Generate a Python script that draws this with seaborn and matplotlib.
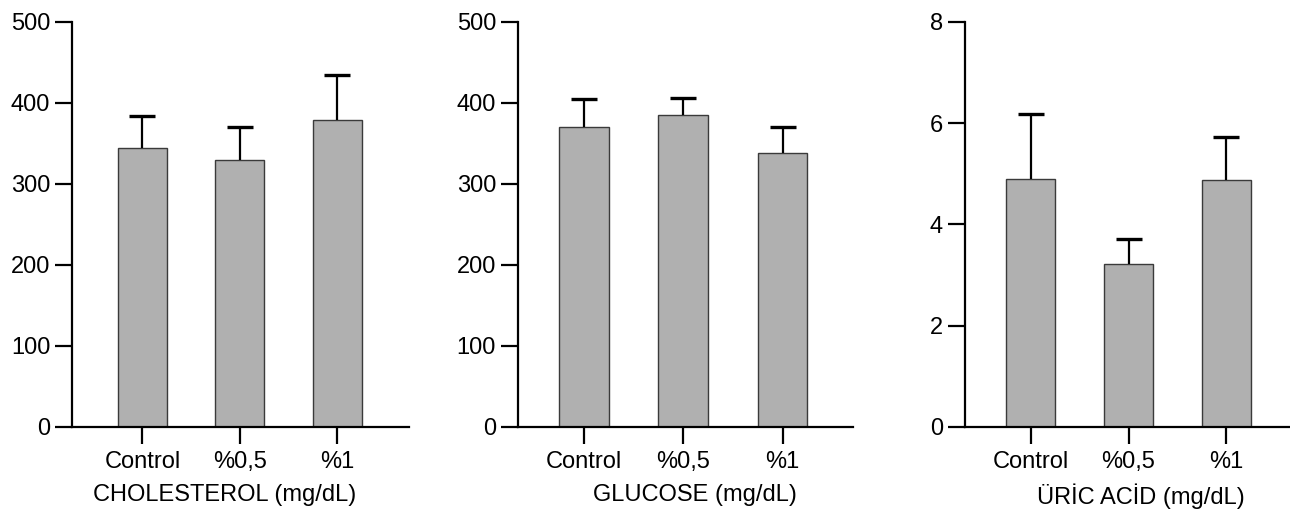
import numpy as np
import pandas as pd
import matplotlib
matplotlib.use("Agg")
import matplotlib.pyplot as plt
import seaborn as sns

# groups shown on every panel
groups = ["Control", "%0,5", "%1"]

# means and SD (upper whisker only)
chol_mean = [344, 329, 379]
chol_sd = [39.5, 41, 55]
gluc_mean = [370, 385, 338.5]
gluc_sd = [35, 21.5, 31.5]
uric_mean = [4.90, 3.22, 4.88]
uric_sd = [1.28, 0.50, 0.84]

labels = ["CHOLESTEROL (mg/dL)", "GLUCOSE (mg/dL)", "ÜRİC ACİD (mg/dL)"]
yticks = [[0, 100, 200, 300, 400, 500], [0, 100, 200, 300, 400, 500], [0, 2, 4, 6, 8]]

sns.set_style("ticks")
plt.rcParams['font.family'] = ['Liberation Sans', 'DejaVu Sans']
plt.rcParams['font.size'] = 17
for k in ['text.color', 'axes.labelcolor', 'xtick.color', 'ytick.color', 'axes.edgecolor']:
    plt.rcParams[k] = 'black'

fig = plt.figure(figsize=(12.9, 5.11), dpi=100)

# axes boxes in figure fractions
boxes = [
    [0.0562, 0.1644, 0.2609, 0.7926],
    [0.4018, 0.1644, 0.2595, 0.7926],
    [0.7481, 0.1644, 0.2519, 0.7926],
]
xlims = [(-0.718, 2.738), (-0.66, 2.71), (-0.67, 2.65)]
label_x = [0.451, 0.529, 0.54]

panels = [(chol_mean, chol_sd), (gluc_mean, gluc_sd), (uric_mean, uric_sd)]

for i, (means, sds) in enumerate(panels):
    ax = fig.add_axes(boxes[i])
    df = pd.DataFrame({"group": groups, "value": means, "sd": sds})
    sns.barplot(data=df, x="group", y="value", ax=ax, color="#b0b0b0",
                saturation=1, width=0.5, edgecolor="#3a3a3a", linewidth=1.0,
                errorbar=None)
    pos = np.arange(len(groups))
    _, caps, _ = ax.errorbar(pos, df["value"], yerr=[np.zeros(len(sds)), df["sd"]],
                             fmt="none", ecolor="black", elinewidth=1.6, capsize=9.7,
                             capthick=2.4, zorder=1)
    # only the upper cap is drawn in the original
    caps[0].set_visible(False)
    ax.set_ylim(0, yticks[i][-1])
    ax.set_yticks(yticks[i])
    ax.set_xlim(*xlims[i])
    sns.despine(ax=ax)
    for sp in ["left", "bottom"]:
        ax.spines[sp].set_linewidth(1.6)
    ax.tick_params(axis="both", length=12, width=1.6, labelsize=17, pad=4)
    ax.tick_params(axis="x", pad=5.5)
    ax.set_ylabel("")
    ax.set_xlabel(labels[i], fontsize=17)
    ax.xaxis.set_label_coords(label_x[i], -0.14)

fig.savefig("out.png", dpi=100)
